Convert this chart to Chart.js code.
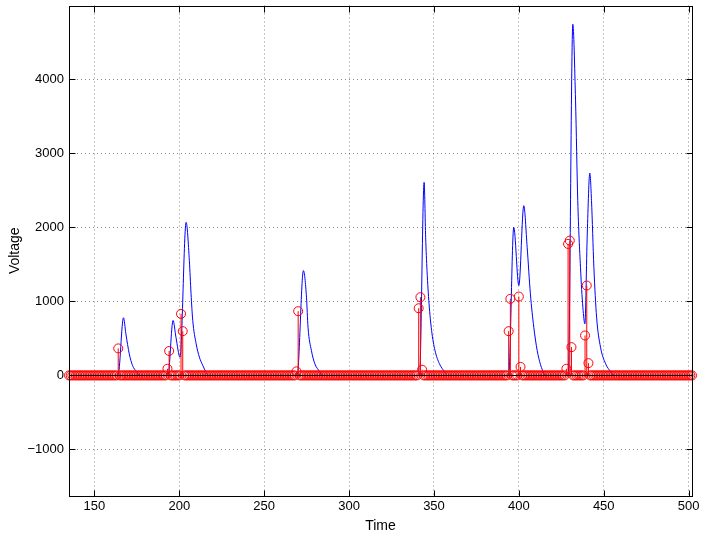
<!DOCTYPE html>
<html>
<head>
<meta charset="utf-8">
<script src="https://cdn.jsdelivr.net/npm/chart.js@4.4.1/dist/chart.umd.min.js"></script>
<style>
  html, body { margin: 0; padding: 0; background: #fff; }
  #voltageChart { display: block; }
</style>
</head>
<body>
<canvas id="voltageChart" width="706" height="536"></canvas>
<script>
// blue trace (time, voltage)
const traceTime = [
  135,
  163.9, 167.1, 168.5, 170.5, 172.4, 174.8, 176.5,
  193.3, 196.3, 198, 200.4, 204.0, 205.9, 206.9, 207.9, 209.9, 211.8, 213.8, 215.8, 217,
  269.4, 273.1, 274.9, 275.8, 277.8, 279.8, 282.7, 284,
  341.5, 344.2, 345.1, 345.9, 347.1, 348.6, 350.6, 353.2, 356.6, 358,
  394, 397, 400, 402.9, 404.9, 406.8, 408.8, 410.8, 412.7, 414, 415.5,
  429.1, 431.8, 433.4, 434.7, 436.3, 437.7, 438.9, 440.3, 441.8, 442.8, 444.2, 445.8, 448.1, 451.1, 454.1, 456,
  502
];
const traceVoltage = [
  0,
  0, 779, 563, 292, 135, 50, 0,
  0, 742, 517, 247, 2069, 1552, 1102, 742, 428, 247, 135, 40, 0,
  0, 1417, 1057, 652, 337, 158, 50, 0,
  0, 2609, 1866, 1417, 968, 607, 337, 158, 40, 0,
  0, 2001, 1215, 2294, 1731, 1102, 652, 337, 150, 67, 0,
  0, 4746, 3711, 2362, 1462, 922, 697, 1912, 2735, 2362, 1462, 787, 382, 158, 50, 0,
  0
];

// red stems: one sample per time step, zero except these
const stemFirst = 135;
const stemLast = 502;
const spikeTime = [164, 193, 194, 201, 202, 269, 270, 341, 342, 343, 394, 395, 400, 401, 428, 429, 430, 431, 439, 440, 441];
const spikeVoltage = [365, 90, 330, 832, 598, 55, 868, 908, 1057, 77, 598, 1035, 1066, 115, 90, 1777, 1822, 382, 540, 1215, 166];

const xTicks = [150, 200, 250, 300, 350, 400, 450, 500];
const yTicks = [-1000, 0, 1000, 2000, 3000, 4000];

const stemPoints = [];
for (let t = stemFirst; t <= stemLast; t++) {
  const k = spikeTime.indexOf(t);
  stemPoints.push({ x: t, y: k >= 0 ? spikeVoltage[k] : 0 });
}
const tracePoints = traceTime.map((t, i) => ({ x: t, y: traceVoltage[i] }));

const tickFont = { family: '"Liberation Sans", Arial, sans-serif', size: 13 };
const titleFont = { family: '"Liberation Sans", Arial, sans-serif', size: 14 };

// stems, baseline, box and inward ticks like matlab
const matlabAxes = {
  id: 'matlabAxes',
  beforeDatasetDraw(chart, args) {
    if (args.index !== 1) return;
    const { ctx, scales: { x, y } } = chart;
    const y0 = y.getPixelForValue(0);
    ctx.save();
    ctx.strokeStyle = '#ff0000';
    ctx.lineWidth = 1;
    ctx.beginPath();
    stemPoints.forEach(p => {
      if (p.y === 0) return;
      const px = x.getPixelForValue(p.x);
      ctx.moveTo(px, y0);
      ctx.lineTo(px, y.getPixelForValue(p.y));
    });
    ctx.stroke();
    ctx.restore();
  },
  afterDatasetsDraw(chart) {
    const { ctx, chartArea: a, scales: { x, y } } = chart;
    const y0 = Math.round(y.getPixelForValue(0)) + 0.5;
    ctx.save();
    ctx.strokeStyle = '#000';
    ctx.lineWidth = 1;
    ctx.beginPath();
    ctx.moveTo(a.left, y0);
    ctx.lineTo(a.right, y0);
    ctx.stroke();

    const L = Math.round(a.left) + 0.5, R = Math.round(a.right) + 0.5;
    const T = Math.round(a.top) + 0.5, B = Math.round(a.bottom) + 0.5;
    ctx.strokeRect(L, T, R - L, B - T);
    const len = 6;
    ctx.beginPath();
    xTicks.forEach(v => {
      const px = Math.round(x.getPixelForValue(v)) + 0.5;
      ctx.moveTo(px, B); ctx.lineTo(px, B - len);
      ctx.moveTo(px, T); ctx.lineTo(px, T + len);
    });
    yTicks.forEach(v => {
      const py = Math.round(y.getPixelForValue(v)) + 0.5;
      ctx.moveTo(L, py); ctx.lineTo(L + len, py);
      ctx.moveTo(R, py); ctx.lineTo(R - len, py);
    });
    ctx.stroke();
    ctx.restore();
  }
};

const ctx = document.getElementById('voltageChart').getContext('2d');
const voltageChart = new Chart(ctx, {
  type: 'line',
  data: {
    datasets: [{
      label: 'trace',
      data: tracePoints,
      borderColor: '#0000ff',
      borderWidth: 1,
      pointRadius: 0,
      cubicInterpolationMode: 'monotone',
      order: 2
    }, {
      label: 'samples',
      data: stemPoints,
      showLine: false,
      pointStyle: 'circle',
      pointRadius: 4.5,
      pointBorderColor: '#ff0000',
      pointBackgroundColor: 'rgba(0,0,0,0)',
      pointBorderWidth: 1,
      clip: false,
      order: 1
    }]
  },
  options: {
    responsive: false,
    animation: false,
    events: [],
    layout: { padding: { top: 4, right: 14, left: 0, bottom: 0 } },
    plugins: { legend: { display: false }, tooltip: { enabled: false } },
    scales: {
      x: {
        type: 'linear',
        min: stemFirst,
        max: stemLast,
        afterBuildTicks: s => { s.ticks = xTicks.map(v => ({ value: v })); },
        afterFit: s => { s.height = 40; s.paddingLeft = 0; s.paddingRight = 0; },
        ticks: { font: tickFont, color: '#000', padding: 3, maxRotation: 0 },
        grid: { color: 'rgba(0,0,0,0.45)', drawTicks: false },
        border: { display: false, dash: [1, 3] },
        title: { display: true, text: 'Time', font: titleFont, color: '#000', padding: { top: 0, bottom: 1 } }
      },
      y: {
        type: 'linear',
        min: -1630,
        max: 5000,
        afterBuildTicks: s => { s.ticks = yTicks.map(v => ({ value: v })); },
        afterFit: s => { s.width = 69; s.paddingTop = 0; s.paddingBottom = 0; },
        ticks: { font: tickFont, color: '#000', padding: 5, callback: v => v < 0 ? '\u2212' + Math.abs(v) : v },
        grid: { color: 'rgba(0,0,0,0.45)', drawTicks: false },
        border: { display: false, dash: [1, 3] },
        title: { display: true, text: 'Voltage', font: titleFont, color: '#000', padding: { top: 7, bottom: 0 } }
      }
    }
  },
  plugins: [matlabAxes]
});
</script>
</body>
</html>
